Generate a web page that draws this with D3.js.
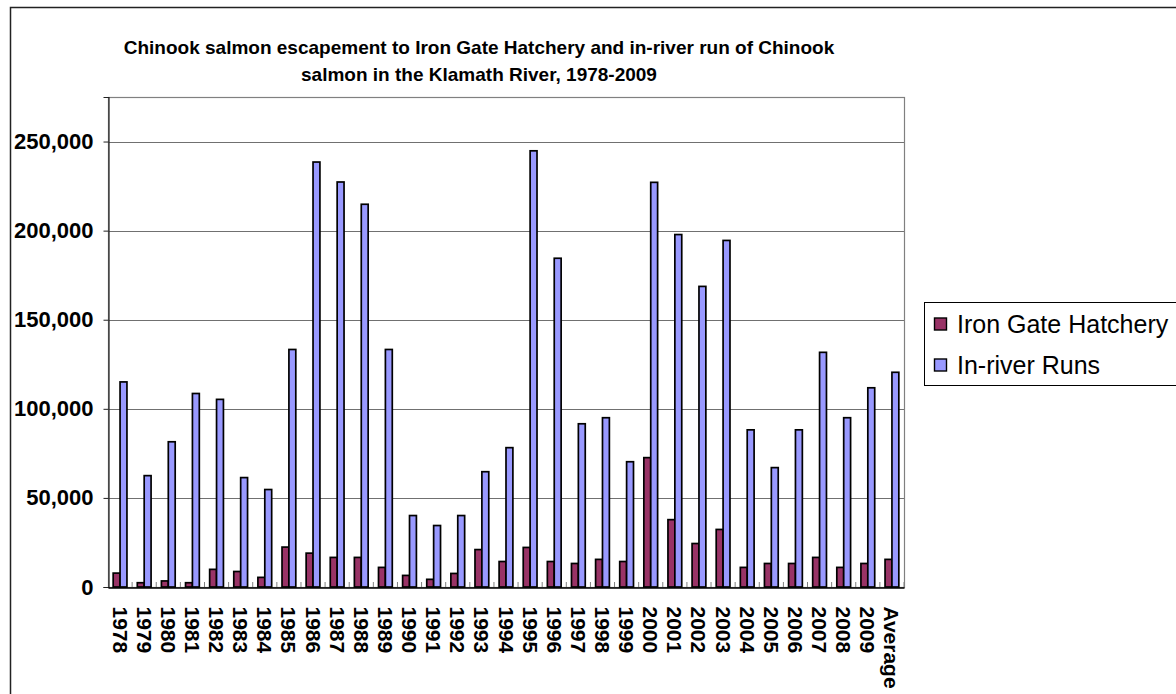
<!DOCTYPE html>
<html>
<head>
<meta charset="utf-8">
<script src="https://cdn.jsdelivr.net/npm/d3@7"></script>
<style>
  html, body { margin: 0; padding: 0; background: #fff; }
  svg { display: block; font-family: "Liberation Sans", Arial, sans-serif; }
</style>
</head>
<body>
<svg id="chart" width="1176" height="694"></svg>
<script>
// Klamath River Chinook salmon, 1978-2009 plus the period average
const years = ["1978","1979","1980","1981","1982","1983","1984","1985","1986","1987",
  "1988","1989","1990","1991","1992","1993","1994","1995","1996","1997","1998","1999",
  "2000","2001","2002","2003","2004","2005","2006","2007","2008","2009","Average"];

const hatchery = [7800, 2400, 3400, 2400, 9900, 8700, 5400, 22400, 19000, 16600,
  16600, 11000, 6500, 4300, 7600, 21000, 14300, 22200, 14300, 13200, 15500, 14300,
  72600, 37800, 24400, 32300, 11000, 13200, 13200, 16600, 11000, 13200, 15500];

const inRiver = [115100, 62500, 81500, 108600, 105300, 61400, 54700, 133300, 238500, 227300,
  214800, 133300, 40100, 34500, 40100, 64700, 78200, 244800, 184500, 91600, 95000, 70300,
  227100, 197800, 168700, 194500, 88200, 67000, 88200, 131700, 95000, 111800, 120500];

const seriesNames = ["Iron Gate Hatchery", "In-river Runs"];
const seriesColors = ["#993366", "#9999FF"];
const yTicks = [0, 50000, 100000, 150000, 200000, 250000];
const titleLines = [
  "Chinook salmon escapement to Iron Gate Hatchery and in-river run of Chinook",
  "salmon in the Klamath River, 1978-2009"
];

const svg = d3.select("#chart");

// outer chart frame (runs off the right and bottom edges)
svg.append("rect")
  .attr("x", 10.5).attr("y", 7.5)
  .attr("width", 1300).attr("height", 900)
  .attr("fill", "none").attr("stroke", "#222").attr("stroke-width", 1.5);

const plot = { left: 108, right: 904, top: 97, bottom: 587 };

const x = d3.scaleBand().domain(years)
  .range([plot.left, plot.right]).paddingInner(0).paddingOuter(0);
const xs = d3.scaleBand().domain(seriesNames)
  .range([0, x.bandwidth()]).paddingInner(0).paddingOuter(0.75);
const y = d3.scaleLinear().domain([0, 275000]).range([plot.bottom, plot.top]);

// gridlines
svg.append("g").selectAll("line").data(yTicks.filter(d => d > 0)).join("line")
  .attr("x1", plot.left).attr("x2", plot.right)
  .attr("y1", d => Math.round(y(d)) + 0.5).attr("y2", d => Math.round(y(d)) + 0.5)
  .attr("stroke", "#707070").attr("stroke-width", 1.2);

// plot area border
svg.append("rect")
  .attr("x", plot.left + 0.5).attr("y", plot.top + 0.5)
  .attr("width", plot.right - plot.left).attr("height", plot.bottom - plot.top)
  .attr("fill", "none").attr("stroke", "#808080").attr("stroke-width", 1.2);

// y axis
const yAxis = d3.axisLeft(y).tickValues(yTicks).tickSize(5).tickPadding(10)
  .tickFormat(d3.format(","));
const gy = svg.append("g").attr("transform", `translate(${plot.left + 0.5},0)`).call(yAxis);
gy.select(".domain").attr("stroke", "#222").attr("stroke-width", 1.2);
gy.selectAll(".tick line").attr("stroke", "#222");
gy.selectAll(".tick text")
  .attr("font-family", "'Liberation Sans', Arial, sans-serif")
  .attr("font-size", 22).attr("font-weight", "bold").attr("fill", "#000");

// bars
const groups = svg.append("g").selectAll("g").data(years).join("g")
  .attr("transform", d => `translate(${x(d)},0)`);
const seriesData = [hatchery, inRiver];
groups.each(function(yr, i) {
  d3.select(this).selectAll("rect").data(seriesNames).join("rect")
    .attr("x", s => xs(s))
    .attr("width", xs.bandwidth())
    .attr("y", (s, k) => y(seriesData[k][i]))
    .attr("height", (s, k) => y(0) - y(seriesData[k][i]))
    .attr("fill", (s, k) => seriesColors[k])
    .attr("stroke", "#000").attr("stroke-width", 1.7);
});

// x axis
const xAxis = d3.axisBottom(x).tickSize(0).tickFormat(d => d);
const gx = svg.append("g").attr("transform", `translate(0,${plot.bottom + 0.5})`).call(xAxis);
gx.select(".domain").attr("stroke", "#000").attr("stroke-width", 1.5);
gx.selectAll(".tick text")
  .attr("font-family", "'Liberation Sans', Arial, sans-serif")
  .attr("font-size", 21).attr("font-weight", "bold").attr("fill", "#000")
  .attr("text-anchor", "start")
  .attr("dominant-baseline", "central")
  .attr("transform", "rotate(90)")
  .attr("x", 19).attr("y", 0).attr("dy", null);

// small category separators on the axis
svg.append("g").selectAll("line").data(years.slice(1).concat(["__end"])).join("line")
  .attr("x1", d => d === "__end" ? plot.right : x(d))
  .attr("x2", d => d === "__end" ? plot.right : x(d))
  .attr("y1", plot.bottom).attr("y2", plot.bottom - 5)
  .attr("stroke", "#808080").attr("stroke-width", 1);

// title
svg.append("g").selectAll("text").data(titleLines).join("text")
  .attr("x", 479).attr("y", (d, i) => 54 + i * 27)
  .attr("text-anchor", "middle")
  .attr("font-size", 19).attr("font-weight", "bold").attr("fill", "#000")
  .text(d => d);

// legend
const legend = svg.append("g");
legend.append("rect")
  .attr("x", 924.5).attr("y", 302.5).attr("width", 300).attr("height", 83)
  .attr("fill", "#fff").attr("stroke", "#000").attr("stroke-width", 1);
const items = legend.selectAll("g.item").data(seriesNames).join("g")
  .attr("class", "item")
  .attr("transform", (d, i) => `translate(0,${324 + i * 41})`);
items.append("rect")
  .attr("x", 934.5).attr("y", -6).attr("width", 12).attr("height", 12)
  .attr("fill", (d, i) => seriesColors[i]).attr("stroke", "#000").attr("stroke-width", 1.4);
items.append("text")
  .attr("x", 957).attr("y", 0).attr("dominant-baseline", "central")
  .attr("font-size", 25).attr("fill", "#000")
  .text(d => d);
</script>
</body>
</html>
